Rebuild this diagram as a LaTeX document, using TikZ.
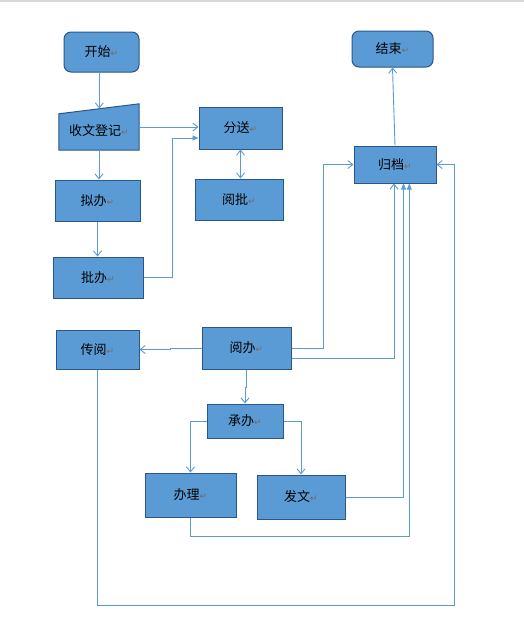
\documentclass[tikz,border=0pt]{standalone}
\usepackage{fontspec}
\setmainfont{Noto Sans CJK SC}
\newfontfamily\symfont{DejaVu Sans}
\usetikzlibrary{arrows.meta,calc}
\definecolor{boxfill}{HTML}{5B9BD5}
\definecolor{boxline}{HTML}{2B5788}
\definecolor{conn}{HTML}{5B9BD5}
\definecolor{retmark}{HTML}{76695F}
\newcommand{\retm}{{\symfont\fontsize{9}{9}\selectfont\color{retmark}↵}}
\begin{document}
\begin{tikzpicture}[x=1pt,y=-1pt,
  box/.style={draw=boxline,fill=boxfill,line width=1pt,rectangle,inner sep=0pt,
    font=\fontsize{13}{14}\selectfont},
  rbox/.style={box,rounded corners=7pt},
  conline/.style={draw=conn,line width=0.9pt},
  arr/.style={conline,-{Straight Barb[length=5pt,width=8pt]}},
  darr/.style={conline,{Straight Barb[length=5pt,width=8pt]}-{Straight Barb[length=5pt,width=8pt]}},
  farr/.style={conline,-{Triangle[length=6pt,width=5pt]}}]
\useasboundingbox (0,0) rectangle (524,643);
\fill[gray!30] (0,0) rectangle (524,1.5);

% nodes
\node[rbox,minimum width=75pt,minimum height=40pt] (start) at (101.5,52) {开始\retm};
\node[rbox,minimum width=81pt,minimum height=36pt] (end) at (392.5,49) {结束\retm};
% manual input shape
\node[minimum width=80pt,minimum height=46pt,inner sep=0pt] (reg) at (99,127) {};
\filldraw[draw=boxline,fill=boxfill,line width=1pt]
  ($(reg.north west)+(0,10)$) -- (reg.north east) -- (reg.south east) -- (reg.south west) -- cycle;
\node[font=\fontsize{13}{14}\selectfont] (regtxt) at (99,131) {收文登记\retm};
\coordinate (regtop) at (99.3,108.5);

\node[box,minimum width=83pt,minimum height=42pt] (fen) at (240.5,128) {分送\retm};
\node[box,minimum width=88pt,minimum height=41pt] (yuepi) at (239,199.5) {阅批\retm};
\node[box,minimum width=85pt,minimum height=41pt] (niban) at (97.5,200.5) {拟办\retm};
\node[box,minimum width=90pt,minimum height=41pt] (piban) at (98,277.5) {批办\retm};
\node[box,minimum width=82pt,minimum height=37pt] (guidang) at (395,164.5) {归档\retm};
\node[box,minimum width=89pt,minimum height=42pt] (yueban) at (246.5,348) {阅办\retm};
\node[box,minimum width=83pt,minimum height=39pt] (chuanyue) at (97.5,349.5) {传阅\retm};
\node[box,minimum width=76pt,minimum height=34pt] (chengban) at (245,421) {承办\retm};
\node[box,minimum width=91pt,minimum height=44pt] (banli) at (190.5,495) {办理\retm};
\node[box,minimum width=88pt,minimum height=44pt] (fawen) at (301,497) {发文\retm};

\coordinate (c1) at (454.3,605.3);

% connectors
\draw[arr] (regtop |- start.south) -- (regtop);
\draw[arr] (reg.east) -- (reg.east -| fen.west);
\draw[arr] (reg.south) -- (reg.south |- niban.north);
\draw[arr] (niban.south) -- (niban.south |- piban.north);
\draw[farr] (piban.east) -- ++(28.7,0) |- ([yshift=-10pt]fen.west);
\draw[darr] (fen.south) -- (fen.south |- yuepi.north);
\draw[arr] (guidang.north) -- (end.south);
\draw[arr] (yueban.east) -- ++(31.7,0) |- (guidang.west);
\draw[arr] ([yshift=-10pt]yueban.east) -| ([xshift=-1pt]guidang.south);
\draw[farr] (fawen.east) -| ([xshift=8.5pt]guidang.south);
\draw[farr] (banli.south) -- ++(0,18.7) -| ([xshift=14.3pt]guidang.south);
\draw[arr] (chuanyue.south) |- (c1) |- (guidang.east);
\draw[arr] (yueban.west) -- ++(-30.6,0) |- (chuanyue.east);
\draw[arr] (yueban.south) -- ++(0,18) -| (chengban.north);
\draw[arr] (chengban.west) -| (banli.north);
\draw[arr] (chengban.east) -| (fawen.north);
\end{tikzpicture}
\end{document}
